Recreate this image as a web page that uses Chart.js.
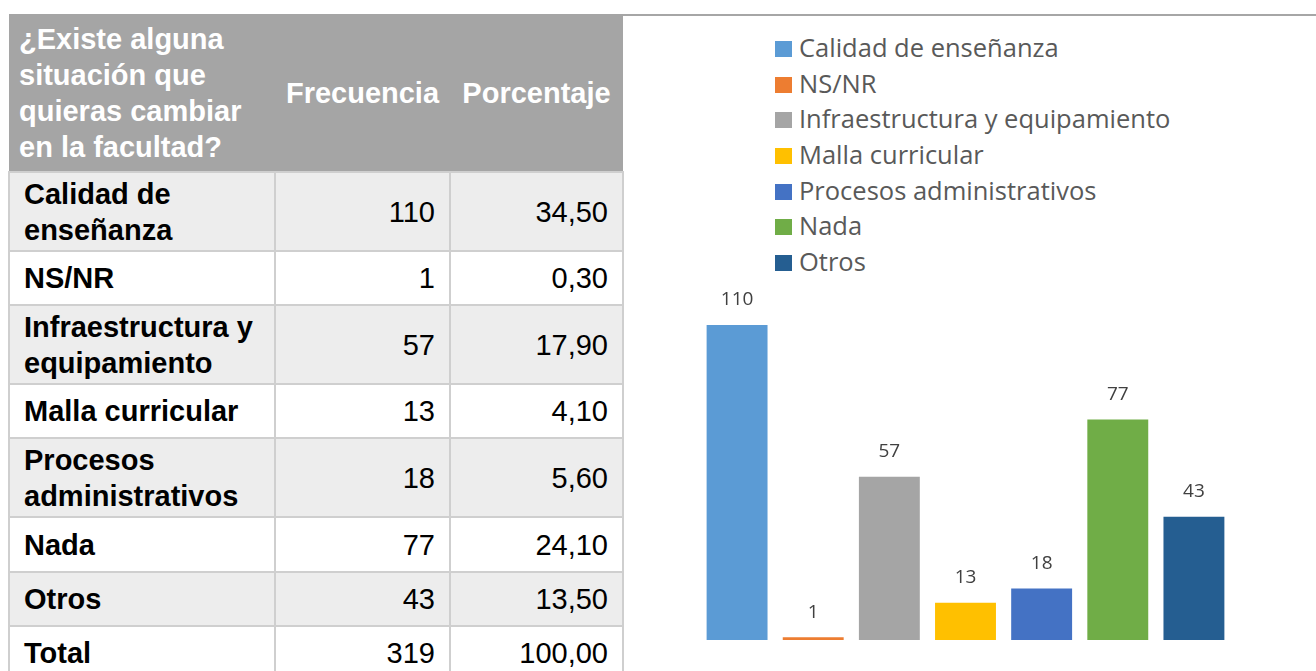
<!DOCTYPE html>
<html>
<head>
<meta charset="utf-8">
<script src="https://cdn.jsdelivr.net/npm/chart.js@4.4.1/dist/chart.umd.min.js"></script>
<style>
    html, body { margin: 0; padding: 0; background: #fff; overflow: hidden; }
    body { width: 1316px; height: 671px; position: relative; }
    #frame {
        position: absolute; left: 621px; top: 14px; width: 695px; height: 157px;
        border-top: 2px solid #a6a6a6; border-left: 2px solid #a6a6a6; box-sizing: border-box;
    }
    #tabla {
        position: absolute; left: 8px; top: 14px; width: 614px;
        border-collapse: collapse; table-layout: fixed;
        font-family: "Liberation Sans", Arial, sans-serif; font-size: 29px; line-height: 36px;
        color: #000;
    }
    #tabla th {
        background: #a5a5a5; color: #fff; font-weight: bold; height: 157px; padding: 0;
        vertical-align: middle;
    }
    #tabla th.first { text-align: left; padding-left: 10px; padding-right: 4px; }
    #tabla td { border: 2px solid #cfcfcf; padding: 0 14px; vertical-align: middle; }
    #tabla td.cat { font-weight: bold; padding-left: 14px; padding-right: 2px; }
    #tabla td.num { text-align: right; }
    #tabla tr.odd td { background: #ededed; }
    #legend {
        position: absolute; left: 775px; top: 30px;
        font-family: "Open Sans", sans-serif; font-size: 25.5px; color: #595959;
    }
    #legend div { height: 35.7px; line-height: 35.7px; white-space: nowrap; }
    #legend span.box { display: inline-block; width: 17px; height: 16px; margin-right: 7px; vertical-align: 0px; }
    #wrap { position: absolute; left: 699px; top: 282px; width: 533px; height: 358px; }
</style>
</head>
<body>
<div id="frame"></div>
<table id="tabla">
    <colgroup><col style="width:266px"><col style="width:175px"><col style="width:173px"></colgroup>
    <thead><tr>
        <th class="first">¿Existe alguna situación que quieras cambiar en la facultad?</th>
        <th>Frecuencia</th>
        <th>Porcentaje</th>
    </tr></thead>
    <tbody id="cuerpo"></tbody>
</table>
<div id="legend"></div>
<div id="wrap"><canvas id="grafico"></canvas></div>
<script>
var categorias = ["Calidad de enseñanza", "NS/NR", "Infraestructura y equipamiento", "Malla curricular", "Procesos administrativos", "Nada", "Otros"];
var frecuencia = [110, 1, 57, 13, 18, 77, 43];
var porcentaje = [34.5, 0.3, 17.9, 4.1, 5.6, 24.1, 13.5];
var colores = ["#5b9bd5", "#ed7d31", "#a5a5a5", "#ffc000", "#4472c4", "#70ad47", "#255e91"];
var alturas = [79, 54, 79, 54, 79, 55, 54, 54];

function fmt(n) {
    return n.toFixed(2).replace('.', ',');
}

// tabla
var cuerpo = document.getElementById('cuerpo');
var totalF = 0, totalP = 0;
for (var i = 0; i < categorias.length; i++) {
    totalF += frecuencia[i];
    totalP += porcentaje[i];
    var tr = document.createElement('tr');
    if (i % 2 === 0) tr.className = 'odd';
    tr.style.height = alturas[i] + 'px';
    tr.innerHTML = '<td class="cat">' + categorias[i] + '</td><td class="num">' + frecuencia[i] + '</td><td class="num">' + fmt(porcentaje[i]) + '</td>';
    cuerpo.appendChild(tr);
}
var trTotal = document.createElement('tr');
trTotal.style.height = alturas[7] + 'px';
trTotal.innerHTML = '<td class="cat">Total</td><td class="num">' + totalF + '</td><td class="num">' + fmt(totalP) + '</td>';
cuerpo.appendChild(trTotal);

// leyenda
var legend = document.getElementById('legend');
categorias.forEach(function (c, i) {
    var d = document.createElement('div');
    d.innerHTML = '<span class="box" style="background:' + colores[i] + '"></span>' + c;
    legend.appendChild(d);
});

var etiquetas = {
    id: 'etiquetas',
    afterDatasetsDraw: function (chart) {
        var ctx = chart.ctx;
        var meta = chart.getDatasetMeta(0);
        ctx.save();
        ctx.font = '19px "Open Sans", sans-serif';
        ctx.fillStyle = '#404040';
        ctx.textAlign = 'center';
        ctx.textBaseline = 'middle';
        meta.data.forEach(function (bar, i) {
            ctx.fillText(chart.data.datasets[0].data[i], bar.x, bar.y - 25);
        });
        ctx.restore();
    }
};

var grafico = new Chart(document.getElementById('grafico'), {
    type: 'bar',
    data: {
        labels: categorias,
        datasets: [{
            data: frecuencia,
            backgroundColor: colores,
            barPercentage: 0.8,
            categoryPercentage: 1
        }]
    },
    options: {
        responsive: true,
        maintainAspectRatio: false,
        animation: false,
        layout: { padding: 0 },
        plugins: {
            legend: { display: false },
            tooltip: { enabled: false }
        },
        scales: {
            x: { display: false },
            y: { display: false, min: 0, max: 125 }
        }
    },
    plugins: [etiquetas]
});
</script>
</body>
</html>
